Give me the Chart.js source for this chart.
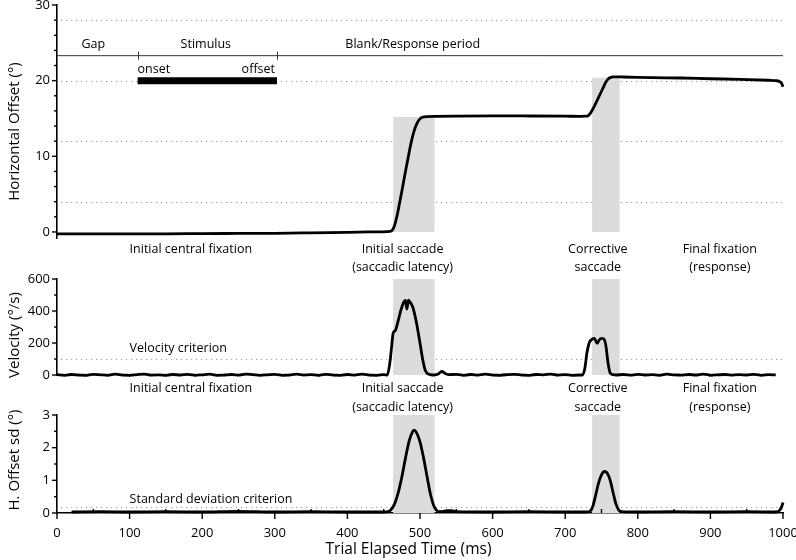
<!DOCTYPE html>
<html><head><meta charset="utf-8">
<script src="https://cdn.jsdelivr.net/npm/chart.js@4/dist/chart.umd.min.js"></script>
<style>
html,body{margin:0;padding:0;background:#fff;}
#wrap{position:relative;width:796px;height:560px;overflow:hidden;background:#fff;}
#wrap canvas{position:absolute;left:0;}
</style></head><body>
<div id="wrap">
<canvas id="c1" width="796" height="250" style="top:0px;width:796px;height:250px"></canvas>
<canvas id="c2" width="796" height="150" style="top:235px;width:796px;height:150px"></canvas>
<canvas id="c3" width="796" height="182" style="top:378px;width:796px;height:182px"></canvas>
</div>
<script>
// ---------------- data ----------------
const timeTicks = [0,100,200,300,400,500,600,700,800,900,1000];
const timeMinorTicks = [50,150,250,350,450,550,650,750,850,950];
const posTicks = [0,10,20,30];
const posMinorTicks = [2,4,6,8,12,14,16,18,22,24,26,28];
const velTicks = [0,200,400,600];
const velMinorTicks = [100,300,500];
const sdTicks = [0,1,2,3];
const sdMinorTicks = [0.5,1.5,2.5];
const posGridLines = [4,12,20,28];
const velCriterion = 100;
const sdCriterion = 0.17;
const saccadeStart = [463, 737];
const saccadeEnd = [520, 775];
const saccadeEndPos = [15.2, 20.4];
const stimulusOnset = 111;
const stimulusOffset = 303;
const stimulusLevel = 20;
const phaseLineLevel = 23.3;
const periodNames = ['Gap', 'Stimulus', 'Blank/Response period'];
const periodCentres = [50, 205, 490];
const phaseNames = ['Initial central fixation', 'Initial saccade', 'Corrective', 'Final fixation'];
const phaseSubNames = ['', '(saccadic latency)', 'saccade', '(response)'];
const phaseAt = [100, 476, 745, 913];

const posTime = [0,50,100,150,200,250,300,350,400,430,455,460,463,466,469,472,476,480,484,488,492,496,500,503,506,510,520,550,600,650,700,720,730,733,736,740,744,748,752,756,759,762,766,780,820,860,900,940,980,990,995,998,1000];
const posDeg = [-0.25,-0.25,-0.25,-0.25,-0.22,-0.2,-0.18,-0.12,-0.05,0.0,0.05,0.1,0.4,1.2,2.4,3.9,5.9,8.0,10.0,11.9,13.4,14.4,14.95,15.15,15.22,15.25,15.28,15.32,15.35,15.33,15.3,15.28,15.3,15.5,15.9,16.6,17.4,18.2,19.0,19.8,20.2,20.4,20.5,20.48,20.4,20.35,20.25,20.18,20.05,20.0,19.9,19.65,19.2];

const velTime = [0,10,20,30,40,50,60,70,80,90,100,110,120,130,140,150,160,170,180,190,200,210,220,230,240,250,260,270,280,290,300,310,320,330,340,350,360,370,380,390,400,410,420,430,440,450,
 455,458,461,463,466,470,474,478,480,482,484,486,490,495,500,504,507,510,514,520,
 525,530,535,540,
 550,560,570,580,590,600,610,620,630,640,650,660,670,680,690,700,710,720,
 724,727,730,733,736,740,744,747,750,753,756,759,762,766,770,
 780,790,800,810,820,830,840,850,860,870,880,890,900,910,920,930,940,950,960,970,980,990];
const velDegPerSec = [2,-2,3,0,-3,4,1,-2,5,0,-3,2,6,-1,1,-3,3,0,4,-2,1,5,-2,0,3,-1,6,2,-2,1,4,-2,0,5,-1,2,-3,4,0,-2,3,-1,5,0,-2,2,
 0,60,180,262,278,340,410,458,466,412,468,458,425,330,200,90,32,10,3,0,
 6,22,9,2,
 4,-2,3,-1,5,0,-3,2,4,0,-2,3,1,6,-1,2,-2,0,
 0,40,140,200,220,229,198,220,229,226,185,75,12,2,0,
 3,-1,4,0,2,-2,5,1,-1,3,0,6,-2,1,3,-1,2,0,4,-2,2,1];

const sdTime = [20,60,100,150,200,250,300,350,400,450,456,460,465,470,475,480,485,490,492,495,500,505,510,515,520,525,530,537,543,550,600,650,700,730,734,738,742,746,750,754,758,762,766,770,774,778,800,850,900,950,990,995,998,1000];
const sdDeg = [0.03,0.04,0.03,0.04,0.03,0.05,0.03,0.04,0.03,0.03,0.04,0.1,0.28,0.62,1.1,1.68,2.2,2.5,2.54,2.47,2.18,1.68,1.08,0.52,0.17,0.05,0.04,0.07,0.07,0.04,0.03,0.04,0.03,0.03,0.05,0.2,0.55,0.92,1.17,1.27,1.22,1.0,0.62,0.27,0.08,0.04,0.03,0.04,0.03,0.04,0.03,0.08,0.18,0.32];

// ---------------- helpers ----------------
const FONT = "'Open Sans', 'DejaVu Sans', sans-serif";
Chart.defaults.font.family = FONT;
Chart.defaults.font.size = 13;
Chart.defaults.color = '#000';

function pts(xs, ys){ return xs.map((t,i)=>({x:t, y:ys[i]})); }

function traceDs(xs, ys){
  return {data: pts(xs, ys), borderColor:'#000', borderWidth:2.8, pointRadius:0,
    fill:false, cubicInterpolationMode:'monotone', clip:false, order:1};
}

function yScale(min, max, majors){
  return {
    type:'linear', position:'left', min, max,
    grid:{display:false, drawTicks:false, tickLength:0},
    border:{display:true, color:'#000', width:1.6},
    ticks:{padding:7, color:'#000', font:{size:13, family:FONT}, callback:v=>String(v)},
    afterBuildTicks:s=>{ s.ticks = majors.map(v=>({value:v})); },
    afterFit:s=>{ s.width = 57; s.paddingTop = 0; s.paddingBottom = 0; }
  };
}
function xScale(show){
  return {
    type:'linear', position:'bottom', min:0, max:1000, display:show,
    grid:{display:false, drawTicks:false, tickLength:0},
    border:{display:show, color:'#000', width:1.6},
    ticks:{padding:12, color:'#000', font:{size:13, family:FONT}, maxRotation:0, autoSkip:false, callback:v=>String(v)},
    afterBuildTicks:s=>{ s.ticks = timeTicks.map(v=>({value:v})); },
    afterFit:s=>{ if(show) s.height = 47; s.paddingLeft = 0; s.paddingRight = 0; }
  };
}

const decor = {
  id:'decor',
  beforeDatasetsDraw(chart, args, o){
    const {ctx, chartArea:ca, scales:{x, y}} = chart;
    ctx.save();
    ctx.strokeStyle = '#9a9a9a'; ctx.lineWidth = 1; ctx.setLineDash([1.2, 3.8]);
    o.dotted.forEach(v=>{
      const py = Math.round(y.getPixelForValue(v)) + 0.5;
      ctx.beginPath(); ctx.moveTo(ca.left + 4, py); ctx.lineTo(ca.right, py); ctx.stroke();
    });
    ctx.setLineDash([]);
    ctx.fillStyle = '#dcdcdc';
    saccadeStart.forEach((s,i)=>{
      const x0 = x.getPixelForValue(s), x1 = x.getPixelForValue(saccadeEnd[i]);
      const yt = o.shadeTop ? y.getPixelForValue(o.shadeTop[i]) : ca.top;
      const yb = y.getPixelForValue(0);
      ctx.fillRect(x0, yt, x1 - x0, yb - yt);
    });
    ctx.restore();
  },
  afterDraw(chart, args, o){
    const {ctx, chartArea:ca, scales:{x, y}} = chart;
    ctx.save();
    ctx.strokeStyle = '#000'; ctx.lineWidth = 1.4;
    const seg = (x0,y0,x1,y1)=>{ ctx.beginPath(); ctx.moveTo(x0,y0); ctx.lineTo(x1,y1); ctx.stroke(); };
    o.yMajor.forEach(v=>{ const py = y.getPixelForValue(v); seg(ca.left-5, py, ca.left, py); });
    o.yMinor.forEach(v=>{ const py = y.getPixelForValue(v); seg(ca.left-3, py, ca.left, py); });
    if (o.xAxis){
      timeTicks.forEach(v=>{ const px = x.getPixelForValue(v); seg(px, ca.bottom, px, ca.bottom+6); });
      timeMinorTicks.forEach(v=>{ const px = x.getPixelForValue(v); seg(px, ca.bottom-4, px, ca.bottom); });
    }
    if (o.phaseLine){
      ctx.strokeStyle = '#333'; ctx.lineWidth = 1;
      const py = y.getPixelForValue(phaseLineLevel);
      [stimulusOnset, stimulusOffset].forEach(v=>{ const px = Math.round(x.getPixelForValue(v))+0.5; seg(px, py-4, px, py+4); });
    }
    ctx.fillStyle = '#000'; ctx.textBaseline = 'middle';
    (o.texts||[]).forEach(t=>{
      ctx.font = (t.size||12.5) + 'px ' + FONT;
      ctx.textAlign = t.align || 'center';
      const px = t.x !== undefined ? x.getPixelForValue(t.x) + (t.dx||0) : t.px;
      const py = t.yv !== undefined ? y.getPixelForValue(t.yv) + (t.dy||0) : t.py;
      if (t.rot){
        ctx.save(); ctx.translate(px, py); ctx.rotate(-Math.PI/2); ctx.fillText(t.text, 0, 0); ctx.restore();
      } else ctx.fillText(t.text, px, py);
    });
    ctx.restore();
  }
};

function phaseTexts(row1, row2){
  const out = [];
  phaseNames.forEach((n,i)=>{
    const align = i === 0 ? 'left' : 'center';
    out.push({text:n, x:phaseAt[i], py:row1, align});
    if (phaseSubNames[i]) out.push({text:phaseSubNames[i], x:phaseAt[i], py:row2, align});
  });
  return out;
}

function baseOpts(padding, scales, decorOpts){
  return {
    responsive:false, animation:false, devicePixelRatio:1, events:[],
    layout:{padding},
    scales,
    plugins:{legend:{display:false}, tooltip:{enabled:false}, decor:decorOpts}
  };
}

// ---------------- panel 1: horizontal offset ----------------
const p1Texts = periodNames.map((n,i)=>({text:n, x:periodCentres[i], py:44.5}));
p1Texts.push({text:'onset', x:stimulusOnset, dx:0, py:69.5, align:'left'});
p1Texts.push({text:'offset', x:stimulusOffset, dx:-2, py:69.5, align:'right'});
p1Texts.push({text:'Horizontal Offset (°)', px:15, py:131.5, rot:true, size:15});
new Chart(document.getElementById('c1'), {
  type:'line',
  data:{datasets:[
    traceDs(posTime, posDeg),
    {data:[{x:stimulusOnset,y:stimulusLevel},{x:stimulusOffset,y:stimulusLevel}], borderColor:'#000', borderWidth:7, borderCapStyle:'butt', pointRadius:0, fill:false, order:2},
    {data:[{x:0,y:phaseLineLevel},{x:1000,y:phaseLineLevel}], borderColor:'#333', borderWidth:1, pointRadius:0, fill:false, order:3}
  ]},
  options:baseOpts({top:5, bottom:12, left:0, right:13},
    {x:xScale(false), y:yScale(-0.8, 30, posTicks)},
    {dotted:posGridLines, shadeTop:saccadeEndPos, yMajor:posTicks, yMinor:posMinorTicks, phaseLine:true, texts:p1Texts}),
  plugins:[decor]
});

// ---------------- panel 2: velocity ----------------
const p2Texts = phaseTexts(14.5, 32);
p2Texts.push({text:'Velocity criterion', x:100, yv:velCriterion, dy:-11, align:'left'});
p2Texts.push({text:'Velocity (°/s)', px:15, py:100, rot:true, size:15});
new Chart(document.getElementById('c2'), {
  type:'line',
  data:{datasets:[traceDs(velTime, velDegPerSec)]},
  options:baseOpts({top:44, bottom:10, left:0, right:13},
    {x:xScale(false), y:yScale(0, 600, velTicks)},
    {dotted:[velCriterion], yMajor:velTicks, yMinor:velMinorTicks, texts:p2Texts}),
  plugins:[decor]
});

// ---------------- panel 3: sd ----------------
const p3Texts = phaseTexts(10.5, 29);
p3Texts.push({text:'Standard deviation criterion', x:100, yv:sdCriterion, dy:-8.5, align:'left'});
p3Texts.push({text:'H. Offset sd (°)', px:15, py:82, rot:true, size:15});
p3Texts.push({text:'Trial Elapsed Time (ms)', px:408.5, py:172, size:15.5});
new Chart(document.getElementById('c3'), {
  type:'line',
  data:{datasets:[traceDs(sdTime, sdDeg)]},
  options:baseOpts({top:37, bottom:0, left:0, right:13},
    {x:xScale(true), y:yScale(0, 3, sdTicks)},
    {dotted:[sdCriterion], yMajor:sdTicks, yMinor:sdMinorTicks, xAxis:true, texts:p3Texts}),
  plugins:[decor]
});
</script>
</body></html>
